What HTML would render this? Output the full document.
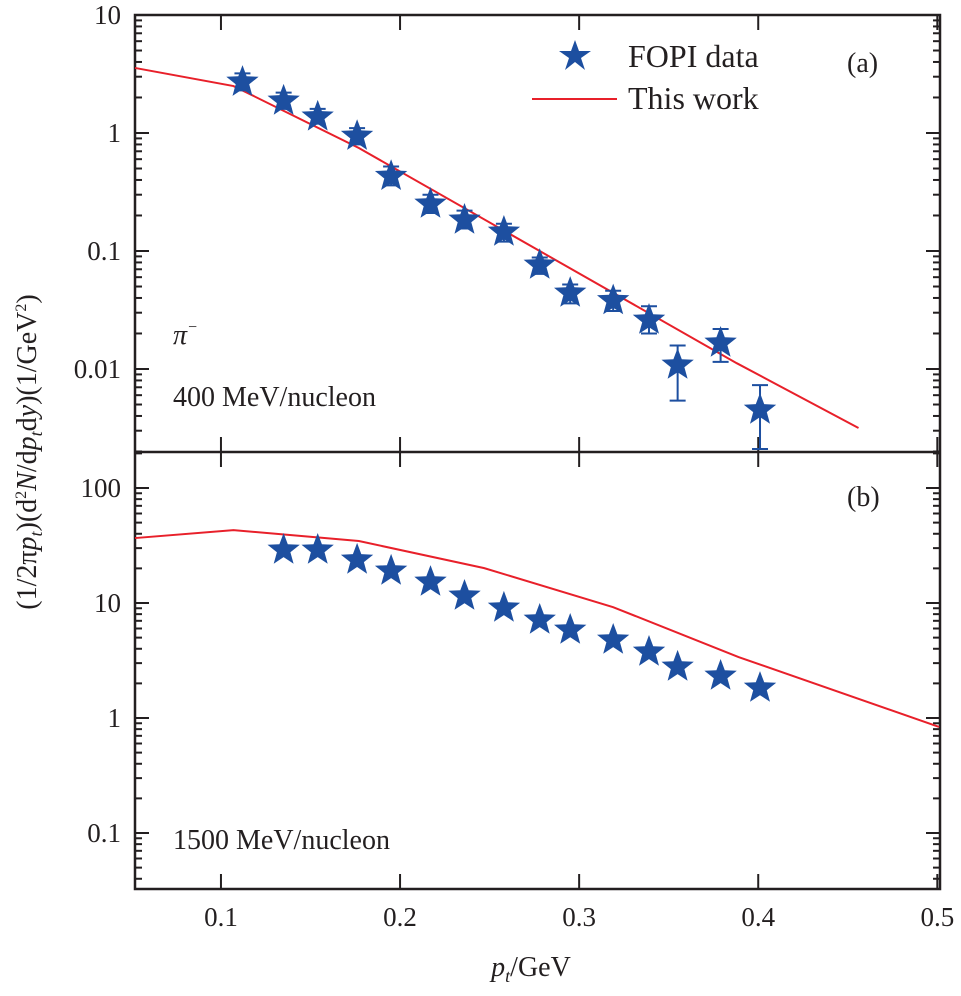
<!DOCTYPE html>
<html><head><meta charset="utf-8"><style>
body{margin:0;background:#fff}
svg text{font-family:"Liberation Serif","DejaVu Serif",serif;fill:#231f20}
</style></head><body>
<svg id="chart" width="961" height="991" viewBox="0 0 961 991" xmlns="http://www.w3.org/2000/svg"></svg>
<script>
// ---- data ----
const xTicks=[0.1,0.2,0.3,0.4,0.5];
const xTickLabels=["0.1","0.2","0.3","0.4","0.5"];
const topYTicks=[10,1,0.1,0.01];
const topYTickLabels=["10","1","0.1","0.01"];
const botYTicks=[100,10,1,0.1];
const botYTickLabels=["100","10","1","0.1"];
const topPt=[0.112,0.135,0.154,0.176,0.195,0.217,0.236,0.258,0.278,0.295,0.319,0.339,0.355,0.379,0.401];
const topVal=[2.7,1.87,1.37,0.94,0.43,0.25,0.183,0.145,0.076,0.044,0.038,0.026,0.0108,0.0166,0.0045];
const topErrHi=[3.2,2.2,1.6,1.1,0.52,0.3,0.22,0.17,0.088,0.052,0.046,0.034,0.0158,0.0218,0.0073];
const topErrLo=[2.3,1.6,1.2,0.8,0.36,0.21,0.155,0.12,0.064,0.036,0.031,0.02,0.0054,0.0115,0.0021];
const topLineX=[0.052,0.107,0.177,0.388,0.456];
const topLineY=[3.56,2.5,0.746,0.0112,0.00316];
const botPt=[0.135,0.154,0.176,0.195,0.217,0.236,0.258,0.278,0.295,0.319,0.339,0.355,0.379,0.401];
const botVal=[28.9,28.9,23.7,19,15.2,11.5,9.06,7.12,5.82,4.77,3.75,2.78,2.32,1.82];
const botLineX=[0.052,0.107,0.177,0.247,0.319,0.389,0.501];
const botLineY=[36.7,43,34.6,20.1,9.2,3.39,0.836];

const NS="http://www.w3.org/2000/svg";
const svg=document.getElementById('chart');
const L=135,R=940;
const X0=0.052,X1=0.5015;
const FONT='"Liberation Serif","DejaVu Serif",serif';
function xs(v){return L+(v-X0)/(X1-X0)*(R-L);}
function ysTop(v){return 133-Math.log10(v)*118;}
function ysBot(v){return 488-(Math.log10(v)-2)*115;}
function mk(tag,attrs,parent){const e=document.createElementNS(NS,tag);for(const k in attrs)e.setAttribute(k,attrs[k]);(parent||svg).appendChild(e);return e;}
function txt(s,x,y,anchor,size,parent){const t=mk('text',{x:x,y:y,'text-anchor':anchor,'font-size':size,'font-family':FONT},parent);t.textContent=s;return t;}
function star(cx,cy,r){let p=[];for(let i=0;i<10;i++){const rr=i%2?r*0.42:r;const a=-Math.PI/2+i*Math.PI/5;p.push((cx+rr*Math.cos(a)).toFixed(1)+","+(cy+rr*Math.sin(a)).toFixed(1));}return p.join(" ");}

function panel(name,y0,y1,ys,yT,yTL,minLog,maxLog){
  const g=mk('g',{});
  
  
  for(let d=minLog;d<=maxLog;d++){
    for(let m=1;m<10;m++){
      const v=m*Math.pow(10,d);const y=ys(v);
      if(y<y0-0.5||y>y1+0.5)continue;
      const len=m===1?14:7;
      mk('line',{x1:L,x2:L+len,y1:y,y2:y,stroke:'#231f20','stroke-width':2},g);
      mk('line',{x1:R,x2:R-len,y1:y,y2:y,stroke:'#231f20','stroke-width':2},g);
    }
  }
  yT.forEach((v,i)=>{const t=txt(yTL[i],121,ys(v)+9,'end',27,g);
    });
  xTicks.forEach(v=>{const x=xs(v);
    mk('line',{x1:x,x2:x,y1:y0,y2:y0+15,stroke:'#231f20','stroke-width':2},g);
    mk('line',{x1:x,x2:x,y1:y1,y2:y1-15,stroke:'#231f20','stroke-width':2},g);});
  return g;
}
const gTop=panel('panel-a',15,452,ysTop,topYTicks,topYTickLabels,-3,1);
const gBot=panel('panel-b',452,889,ysBot,botYTicks,botYTickLabels,-2,2);
const fr=mk('rect',{x:L,y:15,width:R-L,height:874,fill:'none',stroke:'#231f20','stroke-width':2.5});

const mid=mk('line',{x1:L,x2:R,y1:452,y2:452,stroke:'#231f20','stroke-width':2.5});


const lt=mk('polyline',{points:topLineX.map((x,i)=>xs(x)+","+ysTop(topLineY[i])).join(" "),fill:'none',stroke:'#e8202a','stroke-width':2});

topPt.forEach((x,i)=>{
  const cx=xs(x);
  const e=mk('path',{d:`M${cx},${ysTop(topErrHi[i])}V${ysTop(topErrLo[i])}M${cx-8},${ysTop(topErrHi[i])}h16M${cx-8},${ysTop(topErrLo[i])}h16`,stroke:'#1d4fa0','stroke-width':2,fill:'none'});
  
  const s=mk('polygon',{points:star(cx,ysTop(topVal[i]),17),fill:'#1d4fa0'});
  
});
const lb=mk('polyline',{points:botLineX.map((x,i)=>xs(x)+","+ysBot(botLineY[i])).join(" "),fill:'none',stroke:'#e8202a','stroke-width':2});

botPt.forEach((x,i)=>{
  const s=mk('polygon',{points:star(xs(x),ysBot(botVal[i]),17),fill:'#1d4fa0'});
  
});
xTicks.forEach((v,i)=>{const t=txt(xTickLabels[i],xs(v),926,'middle',27);
  });
</script>
<svg style="position:absolute;left:0;top:0" width="961" height="991">
  <g font-family='"Liberation Serif","DejaVu Serif",serif'>
    <polygon points="575,40 579,51 591,51 581,58 585,70 575,62 565,70 569,58 559,51 571,51" fill="#1d4fa0"/>
    <text x="628" y="67" font-size="32" font-family='"Liberation Serif","DejaVu Serif",serif'>FOPI data</text>
    <line x1="532" y1="99" x2="617" y2="99" stroke="#e8202a" stroke-width="2"/>
    <text x="628" y="109" font-size="32" font-family='"Liberation Serif","DejaVu Serif",serif'>This work</text>
  </g>
  <text x="847" y="72" font-size="28" font-family='"Liberation Serif","DejaVu Serif",serif'>(a)</text>
  <text x="847" y="506" font-size="28" font-family='"Liberation Serif","DejaVu Serif",serif'>(b)</text>
  <text x="173" y="344" font-size="28" font-style="italic" font-family='"Liberation Serif","DejaVu Serif",serif'>π<tspan font-size="16" dy="-12">−</tspan></text>
  <text x="173" y="406" font-size="28" font-family='"Liberation Serif","DejaVu Serif",serif'>400 MeV/nucleon</text>
  <text x="173" y="849" font-size="28" font-family='"Liberation Serif","DejaVu Serif",serif'>1500 MeV/nucleon</text>
  <text x="531" y="976" font-size="28" text-anchor="middle" font-family='"Liberation Serif","DejaVu Serif",serif'><tspan font-style="italic">p</tspan><tspan font-style="italic" font-size="18" dy="6">t</tspan><tspan dy="-6">/GeV</tspan></text>
  <text transform="translate(36,452) rotate(-90)" font-size="28" text-anchor="middle" font-family='"Liberation Serif","DejaVu Serif",serif'>(1/2π<tspan font-style="italic">p</tspan><tspan font-style="italic" font-size="18" dy="6">t</tspan><tspan dy="-6">)(d</tspan><tspan font-size="16" dy="-10">2</tspan><tspan font-style="italic" dy="10">N</tspan><tspan>/d</tspan><tspan font-style="italic">p</tspan><tspan font-style="italic" font-size="18" dy="6">t</tspan><tspan dy="-6">d</tspan><tspan font-style="italic">y</tspan><tspan>)(1/GeV</tspan><tspan font-size="16" dy="-10">2</tspan><tspan dy="10">)</tspan></text>
</svg>
</body></html>
